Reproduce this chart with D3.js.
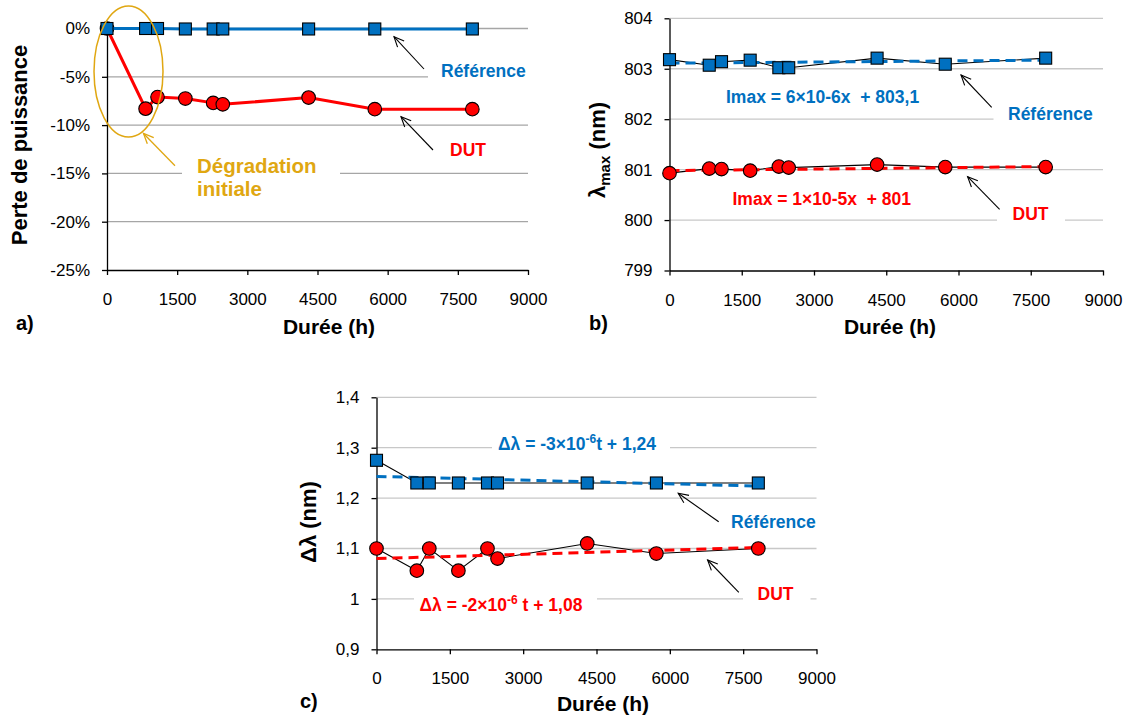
<!DOCTYPE html>
<html><head><meta charset="utf-8">
<script src="https://cdn.jsdelivr.net/npm/d3@7"></script>
<style>
body{margin:0;background:#fff}
svg{display:block}
text{font-family:"Liberation Sans",Arial,sans-serif}
</style>
</head><body>
<svg id="chart" width="1129" height="722"></svg>
<script>
// ---------- data ----------
const hours = [0, 825, 1080, 1675, 2270, 2475, 4310, 5725, 7810];
const xTicks = [0, 1500, 3000, 4500, 6000, 7500, 9000];

// a) power loss (%)
const lossTicks = [0, -5, -10, -15, -20, -25];
const refLoss = [0, 0, 0, -0.05, -0.05, -0.05, -0.05, -0.05, -0.05];
const dutLoss = [0, -8.3, -7.1, -7.25, -7.7, -7.85, -7.15, -8.35, -8.35];

// b) lambda max (nm)
const lambdaTicks = [799, 800, 801, 802, 803, 804];
const refLambda = [803.18, 803.07, 803.14, 803.17, 803.02, 803.02, 803.21, 803.09, 803.21];
const dutLambda = [800.93, 801.02, 801.01, 800.98, 801.06, 801.04, 801.10, 801.05, 801.05];
const refLambdaTrendX = [0, 7810], refLambdaTrendY = [803.11, 803.17];
const dutLambdaTrendX = [0, 7810], dutLambdaTrendY = [800.98, 801.06];

// c) delta lambda (nm)
const dlTicks = [0.9, 1.0, 1.1, 1.2, 1.3, 1.4];
const refDL = [1.275, 1.23, 1.23, 1.23, 1.23, 1.23, 1.23, 1.23, 1.23];
const dutDL = [1.10, 1.056, 1.10, 1.056, 1.10, 1.08, 1.11, 1.09, 1.10];
const refDLTrendX = [0, 7750], refDLTrendY = [1.243, 1.224];
const dutDLTrendX = [0, 7810], dutDLTrendY = [1.080, 1.102];

// ---------- styles ----------
const BLUE = "#0070C0", RED = "#FF0000", GOLD = "#E0A712";
const FONT_TICK = 17, FONT_TITLE = 21, FONT_ANN = 17.5;
const svg = d3.select("#chart");

function arrow(g, p, color, w) {
  const [x1, y1, x2, y2] = p;
  g.append("line").attr("x1", x1).attr("y1", y1).attr("x2", x2).attr("y2", y2)
    .attr("stroke", color).attr("stroke-width", w || 1.1);
  const ang = Math.atan2(y1 - y2, x1 - x2), L = 11, a = 0.42;
  const pts = [[x2 + L * Math.cos(ang + a), y2 + L * Math.sin(ang + a)], [x2, y2],
               [x2 + L * Math.cos(ang - a), y2 + L * Math.sin(ang - a)]];
  g.append("path").attr("d", d3.line()(pts)).attr("fill", "none")
    .attr("stroke", color).attr("stroke-width", w || 1.1);
}

function panel(o) {
  const x = d3.scaleLinear().domain([0, 9000]).range([o.left, o.right]);
  const y = d3.scaleLinear().domain(o.yDomain).range([o.bottom, o.top]);
  const g = svg.append("g");
  g.append("g").selectAll("line").data(o.yTicks.filter(t => t !== o.yDomain[0])).join("line")
    .attr("x1", o.left).attr("x2", o.right)
    .attr("y1", d => y(d)).attr("y2", d => y(d))
    .attr("stroke", o.grid).attr("stroke-width", 1.3);
  const layers = {
    boxes: g.append("g"),
    axes: g.append("g"),
    series: g.append("g"),
    ann: g.append("g")
  };
  const xa = layers.axes.append("g").attr("transform", `translate(0,${o.bottom})`)
    .call(d3.axisBottom(x).tickValues(xTicks).tickSize(5).tickSizeOuter(0).tickPadding(18)
      .tickFormat(d3.format("d")));
  const ya = layers.axes.append("g").attr("transform", `translate(${o.left},0)`)
    .call(d3.axisLeft(y).tickValues(o.yTicks).tickSize(5).tickSizeOuter(0).tickPadding(12)
      .tickFormat(o.fmt));
  [xa, ya].forEach(a => {
    a.attr("font-family", null).attr("font-size", null);
    a.selectAll("text").attr("font-size", FONT_TICK).attr("fill", "#000");
    a.selectAll("path,line").attr("stroke", "#000").attr("stroke-width", 1.3);
  });
  return { x, y, g, layers };
}

function textBox(layer, x0, x1, yc, h) {
  layer.append("rect").attr("x", x0).attr("y", yc - h / 2).attr("width", x1 - x0).attr("height", h)
    .attr("fill", "#fff");
}

function markers(layer, x, y, vals, kind, color) {
  const pts = hours.map((h, i) => [x(h), y(vals[i])]);
  if (kind === "sq") {
    layer.append("g").selectAll("rect").data(pts).join("rect")
      .attr("x", d => d[0] - 6).attr("y", d => d[1] - 6).attr("width", 12).attr("height", 12)
      .attr("fill", color).attr("stroke", "#000").attr("stroke-width", 1.1);
  } else {
    layer.append("g").selectAll("circle").data(pts).join("circle")
      .attr("cx", d => d[0]).attr("cy", d => d[1]).attr("r", 6.8)
      .attr("fill", color).attr("stroke", "#000").attr("stroke-width", 1.1);
  }
}

function seriesLine(layer, x, y, xs, ys, color, w, dash) {
  const p = layer.append("path")
    .attr("d", d3.line().x((d, i) => x(xs[i])).y(d => y(d))(ys))
    .attr("fill", "none").attr("stroke", color).attr("stroke-width", w);
  if (dash) p.attr("stroke-dasharray", dash);
}

function label(layer, txt, x, yBase, color, size, anchor) {
  return layer.append("text").attr("x", x).attr("y", yBase).attr("fill", color)
    .attr("font-size", size).attr("font-weight", "bold").attr("text-anchor", anchor || "start").text(txt);
}

// ================= panel a =================
{
  const P = panel({ left: 107, right: 528, top: 28.5, bottom: 270, yDomain: [-25, 0],
    yTicks: lossTicks, grid: "#A6A6A6", fmt: d => d + "%" });
  const { x, y, layers } = P;
  textBox(layers.boxes, 428, 528, 71, 24);
  textBox(layers.boxes, 182, 340, 177, 46);
  seriesLine(layers.series, x, y, hours, dutLoss, RED, 3);
  markers(layers.series, x, y, dutLoss, "ci", RED);
  seriesLine(layers.series, x, y, hours, refLoss, BLUE, 3);
  markers(layers.series, x, y, refLoss, "sq", BLUE);
  layers.ann.append("ellipse").attr("cx", 128.5).attr("cy", 71.5).attr("rx", 34.5).attr("ry", 65.5)
    .attr("fill", "none").attr("stroke", GOLD).attr("stroke-width", 1.5);
  arrow(layers.ann, [175, 165.7, 143.5, 133.5], GOLD, 1.3);
  label(layers.ann, "Dégradation", 197, 172.5, GOLD, 20.5);
  label(layers.ann, "initiale", 197, 196, GOLD, 20.5);
  label(layers.ann, "Référence", 441, 77, BLUE, FONT_ANN);
  label(layers.ann, "DUT", 450, 155.5, RED, FONT_ANN);
  arrow(layers.ann, [424, 69, 394, 36.7], "#000");
  arrow(layers.ann, [433, 150, 401, 116.7], "#000");
  layers.ann.append("text").attr("transform", "translate(27,145) rotate(-90)")
    .attr("text-anchor", "middle").attr("font-size", FONT_TITLE + 1).attr("font-weight", "bold").text("Perte de puissance");
  label(layers.ann, "Durée (h)", 329, 334, "#000", FONT_TITLE, "middle");
  label(layers.ann, "a)", 16, 330, "#000", 20);
}

// ================= panel b =================
{
  const P = panel({ left: 669.5, right: 1103, top: 18.3, bottom: 270.5, yDomain: [799, 804],
    yTicks: lambdaTicks, grid: "#C8C8C8", fmt: d3.format("d") });
  const { x, y, layers } = P;
  textBox(layers.boxes, 993.5, 1103, 113.3, 24);
  textBox(layers.boxes, 997, 1065, 213.3, 24);
  seriesLine(layers.series, x, y, hours, refLambda, "#000", 1.1);
  seriesLine(layers.series, x, y, hours, dutLambda, "#000", 1.1);
  seriesLine(layers.series, x, y, refLambdaTrendX, refLambdaTrendY, BLUE, 3, "10,6");
  seriesLine(layers.series, x, y, dutLambdaTrendX, dutLambdaTrendY, RED, 3, "10,6");
  markers(layers.series, x, y, refLambda, "sq", BLUE);
  markers(layers.series, x, y, dutLambda, "ci", RED);
  label(layers.ann, "Imax = 6×10-6x  + 803,1", 726, 103, BLUE, FONT_ANN).attr("xml:space", "preserve");
  label(layers.ann, "Imax = 1×10-5x  + 801", 732.5, 204.6, RED, FONT_ANN).attr("xml:space", "preserve");
  label(layers.ann, "Référence", 1008, 119.6, BLUE, FONT_ANN);
  label(layers.ann, "DUT", 1012.5, 219.6, RED, FONT_ANN);
  arrow(layers.ann, [991.7, 107.3, 961, 75], "#000");
  arrow(layers.ann, [999.6, 209.3, 967.6, 176.7], "#000");
  const t = layers.ann.append("text").attr("transform", "translate(605,150) rotate(-90)")
    .attr("text-anchor", "middle").attr("font-size", FONT_TITLE + 1).attr("font-weight", "bold");
  t.append("tspan").text("λ");
  t.append("tspan").attr("font-size", 15).attr("dy", 5).text("max");
  t.append("tspan").attr("dy", -5).text(" (nm)");
  label(layers.ann, "Durée (h)", 890, 334, "#000", FONT_TITLE, "middle");
  label(layers.ann, "b)", 589, 330, "#000", 20);
}

// ================= panel c =================
{
  const P = panel({ left: 376.5, right: 816.5, top: 397.3, bottom: 649.3, yDomain: [0.9, 1.4],
    yTicks: dlTicks, grid: "#C8C8C8", fmt: d => (Math.round(d * 10) === 10 ? "1" : d3.format(".1f")(d).replace(".", ",")) });
  const { x, y, layers } = P;
  textBox(layers.boxes, 492, 670, 443.3, 24);
  textBox(layers.boxes, 414, 597, 605, 24);
  textBox(layers.boxes, 743, 810.5, 593.3, 24);
  seriesLine(layers.series, x, y, hours, refDL, "#000", 1.1);
  seriesLine(layers.series, x, y, hours, dutDL, "#000", 1.1);
  seriesLine(layers.series, x, y, refDLTrendX, refDLTrendY, BLUE, 3, "10,6");
  seriesLine(layers.series, x, y, dutDLTrendX, dutDLTrendY, RED, 3, "10,6");
  markers(layers.series, x, y, refDL, "sq", BLUE);
  markers(layers.series, x, y, dutDL, "ci", RED);
  const e1 = label(layers.ann, "", 498, 449.6, BLUE, FONT_ANN);
  e1.append("tspan").text("Δλ = -3×10");
  e1.append("tspan").attr("font-size", 12).attr("dy", -7).text("-6");
  e1.append("tspan").attr("dy", 7).text("t + 1,24");
  const e2 = label(layers.ann, "", 419.5, 611.3, RED, FONT_ANN).attr("xml:space", "preserve");
  e2.append("tspan").text("Δλ = -2×10");
  e2.append("tspan").attr("font-size", 12).attr("dy", -7).text("-6");
  e2.append("tspan").attr("dy", 7).text(" t + 1,08");
  label(layers.ann, "Référence", 731, 528, BLUE, FONT_ANN);
  label(layers.ann, "DUT", 757.5, 599.6, RED, FONT_ANN);
  arrow(layers.ann, [718.7, 521.7, 678.2, 493.3], "#000");
  arrow(layers.ann, [738.8, 592.3, 707.6, 560], "#000");
  layers.ann.append("text").attr("transform", "translate(316,522) rotate(-90)")
    .attr("text-anchor", "middle").attr("font-size", FONT_TITLE + 1).attr("font-weight", "bold").text("Δλ (nm)");
  label(layers.ann, "Durée (h)", 603, 711, "#000", FONT_TITLE, "middle");
  label(layers.ann, "c)", 300, 708, "#000", 20);
}
</script>
</body></html>
